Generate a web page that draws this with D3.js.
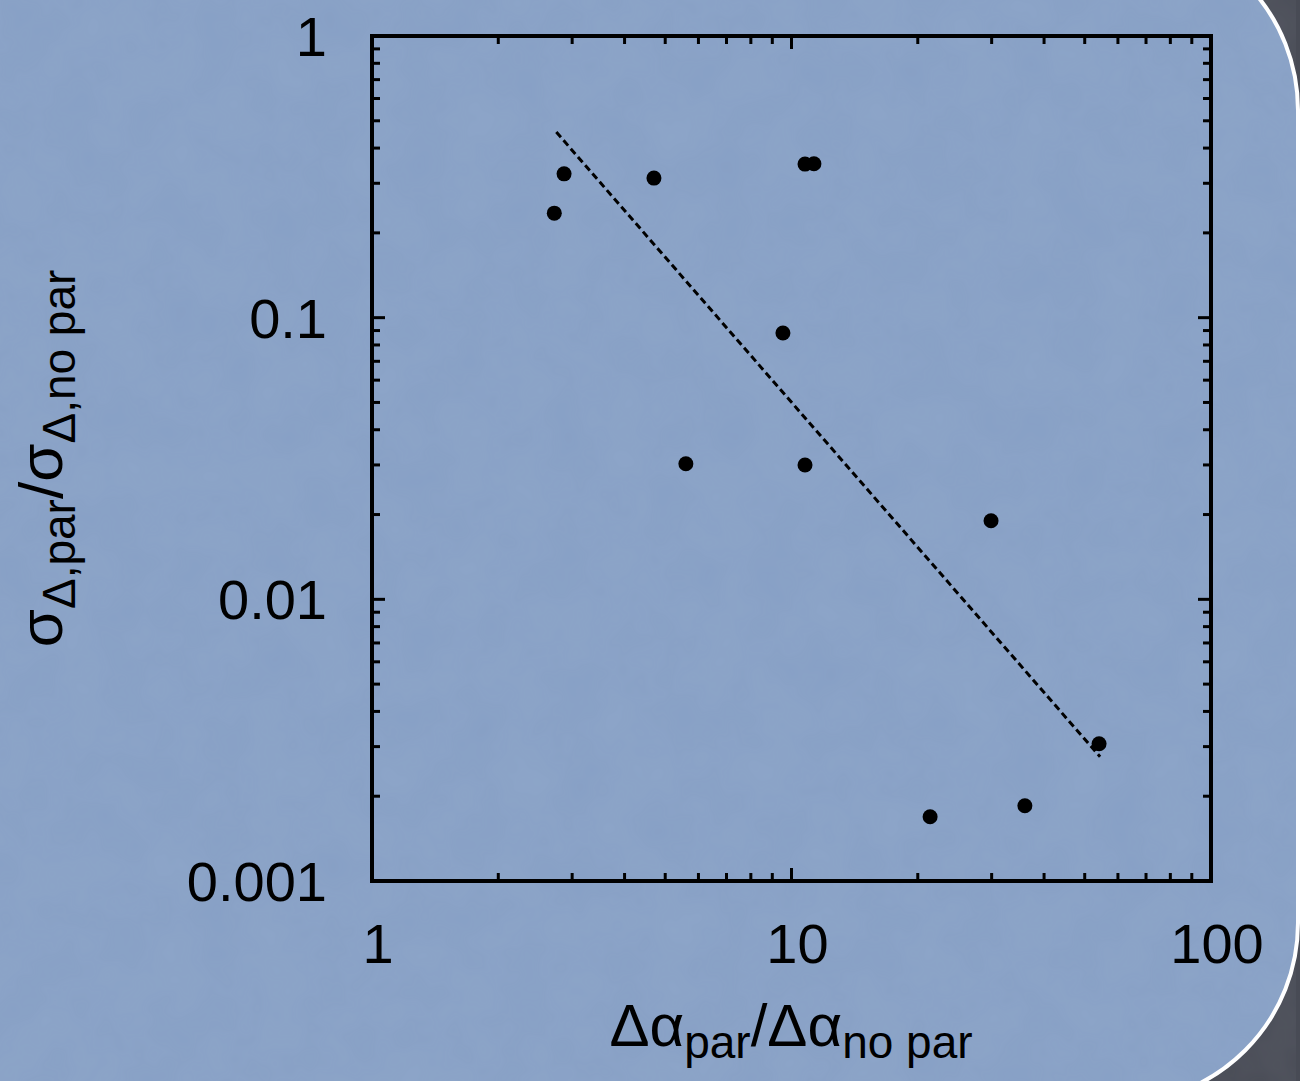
<!DOCTYPE html>
<html>
<head>
<meta charset="utf-8">
<script src="https://cdnjs.cloudflare.com/ajax/libs/d3/7.8.5/d3.min.js"></script>
<style>
  html, body { margin: 0; padding: 0; background: #474a54; }
  svg { display: block; }
  text { font-family: "Liberation Sans", Arial, Helvetica, sans-serif; fill: #000; }
</style>
</head>
<body>
<svg id="chart" width="1300" height="1081"></svg>
<script>
// Points (x = Δα ratio, y = σ ratio), log-log.
var ratioAlpha = [2.72, 2.87, 4.70, 5.60, 9.54, 10.77, 11.31, 10.77, 21.4, 29.9, 36.0, 54.1];
var ratioSigma = [0.235, 0.324, 0.313, 0.0303, 0.0882, 0.351, 0.352, 0.0300, 0.00169, 0.0190, 0.00185, 0.00307];

// End points of the dashed fit line.
var fitAlpha = [2.75, 54.4];
var fitSigma = [0.456, 0.00276];

var xTicks = [1, 10, 100];
var xTickLabels = ['1', '10', '100'];
var yTicks = [0.001, 0.01, 0.1, 1];
var yTickLabels = ['0.001', '0.01', '0.1', '1'];

var svg = d3.select('#chart');
var width = +svg.attr('width');
var height = +svg.attr('height');

var margin = { left: 372, right: 89, top: 36, bottom: 200 };
var plotW = width - margin.left - margin.right;
var plotH = height - margin.top - margin.bottom;

// Slide background: dark outside, blue rounded panel with a white rim.
var defs = svg.append('defs');
var filt = defs.append('filter').attr('id', 'grain')
  .attr('x', 0).attr('y', 0).attr('width', '100%').attr('height', '100%');
filt.append('feTurbulence')
  .attr('type', 'fractalNoise')
  .attr('baseFrequency', '0.02')
  .attr('numOctaves', 3)
  .attr('seed', 4)
  .attr('result', 'noise');
filt.append('feColorMatrix')
  .attr('in', 'noise')
  .attr('type', 'matrix')
  .attr('values', '0 0 0 0 0.85  0 0 0 0 0.9  0 0 0 0 1  0 0 0 0.09 0');

svg.append('rect')
  .attr('width', width).attr('height', height)
  .attr('fill', '#484b55');

svg.append('rect')
  .attr('x', -300).attr('y', -70)
  .attr('width', 1598).attr('height', 1173)
  .attr('rx', 180).attr('ry', 180)
  .attr('fill', '#87a0c5')
  .attr('stroke', '#ffffff')
  .attr('stroke-width', 4);

svg.append('rect')
  .attr('x', -300).attr('y', -70)
  .attr('width', 1596).attr('height', 1171)
  .attr('rx', 178).attr('ry', 178)
  .attr('fill', '#fff')
  .attr('filter', 'url(#grain)')
  .attr('opacity', 0.7);

var x = d3.scaleLog().domain([1, 100]).range([0, plotW]);
var y = d3.scaleLog().domain([0.001, 1]).range([plotH, 0]);

var g = svg.append('g')
  .attr('transform', 'translate(' + margin.left + ',' + margin.top + ')');

// Minor and major ticks, drawn inward on all four sides.
var xAll = x.ticks();
var yAll = y.ticks();
function isMajor(v) { return Math.abs(Math.log10(v) - Math.round(Math.log10(v))) < 1e-9; }

var ticks = g.append('g').attr('stroke', '#000').attr('stroke-width', 3);
xAll.forEach(function(v) {
  var len = isMajor(v) ? 13 : 8;
  ticks.append('line').attr('x1', x(v)).attr('x2', x(v)).attr('y1', plotH).attr('y2', plotH - len);
  ticks.append('line').attr('x1', x(v)).attr('x2', x(v)).attr('y1', 0).attr('y2', len);
});
yAll.forEach(function(v) {
  var len = isMajor(v) ? 13 : 8;
  ticks.append('line').attr('y1', y(v)).attr('y2', y(v)).attr('x1', 0).attr('x2', len);
  ticks.append('line').attr('y1', y(v)).attr('y2', y(v)).attr('x1', plotW).attr('x2', plotW - len);
});

g.append('rect')
  .attr('width', plotW).attr('height', plotH)
  .attr('fill', 'none')
  .attr('stroke', '#000')
  .attr('stroke-width', 4);

// Tick labels.
g.selectAll('.xlab')
  .data(xTicks)
  .enter().append('text')
    .attr('class', 'xlab')
    .attr('x', function(d) { return x(d) + 6; })
    .attr('y', plotH + 82)
    .attr('text-anchor', 'middle')
    .attr('font-size', 56)
    .text(function(d, i) { return xTickLabels[i]; });

g.selectAll('.ylab')
  .data(yTicks)
  .enter().append('text')
    .attr('class', 'ylab')
    .attr('x', -45)
    .attr('y', function(d) { return y(d) + 20; })
    .attr('text-anchor', 'end')
    .attr('font-size', 56)
    .text(function(d, i) { return yTickLabels[i]; });

// Dashed fit line.
g.append('line')
  .attr('x1', x(fitAlpha[0])).attr('y1', y(fitSigma[0]))
  .attr('x2', x(fitAlpha[1])).attr('y2', y(fitSigma[1]))
  .attr('stroke', '#000')
  .attr('stroke-width', 3)
  .attr('stroke-dasharray', '7,4');

// Data points.
g.selectAll('circle')
  .data(ratioAlpha)
  .enter().append('circle')
    .attr('cx', function(d) { return x(d); })
    .attr('cy', function(d, i) { return y(ratioSigma[i]); })
    .attr('r', 7.5)
    .attr('fill', '#000');

// Axis titles with subscripts.
var xt = svg.append('text')
  .attr('x', 791)
  .attr('y', 1046)
  .attr('text-anchor', 'middle')
  .attr('font-size', 60);
xt.append('tspan').text('Δα');
xt.append('tspan').attr('font-size', 46).attr('dy', 12).text('par');
xt.append('tspan').attr('dy', -12).text('/Δα');
xt.append('tspan').attr('font-size', 46).attr('dy', 12).text('no par');

var yt = svg.append('text')
  .attr('transform', 'translate(62,' + (margin.top + plotH / 2) + ') rotate(-90)')
  .attr('text-anchor', 'middle')
  .attr('font-size', 62);
yt.append('tspan').text('σ');
yt.append('tspan').attr('font-size', 46).attr('dy', 13).text('Δ,par');
yt.append('tspan').attr('dy', -13).text('/σ');
yt.append('tspan').attr('font-size', 46).attr('dy', 13).text('Δ,no par');
</script>
</body>
</html>
